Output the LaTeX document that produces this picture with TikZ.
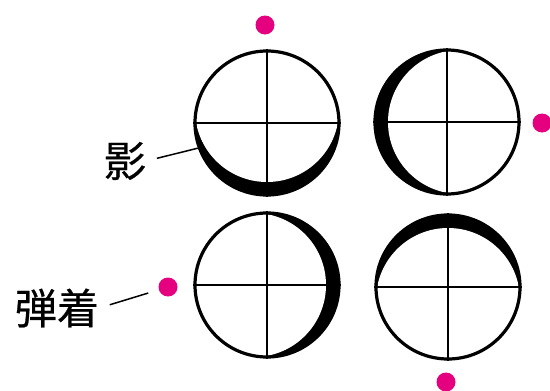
\documentclass[tikz,border=0pt]{standalone}
\usepackage{fontspec}
\newfontfamily\jpfont[FakeBold=0.6]{Noto Sans CJK JP}
\definecolor{impact}{HTML}{E4007F}

\begin{document}
\begin{tikzpicture}[x=1pt,y=-1pt,
  sight/.style={circle, draw, line width=3.2pt, minimum size=144pt, inner sep=0pt},
  hit/.style={circle, fill=impact, minimum size=19pt, inner sep=0pt},
  leader/.style={line width=1.5pt},
  jp/.style={font=\jpfont\fontsize{42}{42}\selectfont, inner sep=0pt}]

\useasboundingbox (0,0) rectangle (550,391);

% Sights; the shadow lies opposite the hit
\foreach \name/\cx/\cy/\dx/\dy in {tl/267/123/0/-13, tr/447/122/13/0, bl/267/285/-13/0, br/448/287/0/13} {
  \begin{scope}
    \clip (\cx,\cy) circle (72);
    \fill (\cx,\cy) circle (72);
    \fill[white] (\cx+\dx,\cy+\dy) circle (72);
  \end{scope}
  \node[sight] (\name) at (\cx,\cy) {};
  \draw[line width=2.6pt] (\name.north) -- (\name.south) (\name.west) -- (\name.east);
}

% Hits
\node[hit] (hittl) at (265,25) {};
\node[hit] (hittr) at (542,123) {};
\node[hit] (hitbl) at (168,287) {};
\node[hit] (hitbr) at (446,382) {};

% Labels
\node[jp] (kage) at (125,161) {影};
\node[jp] (dan) at (57,308) {弾着};
\draw[leader, shorten <=11pt] (kage.east) -- (tl.200);
\draw[leader, shorten <=11pt, shorten >=11pt] (dan.east) -- (hitbl);

\end{tikzpicture}
\end{document}
